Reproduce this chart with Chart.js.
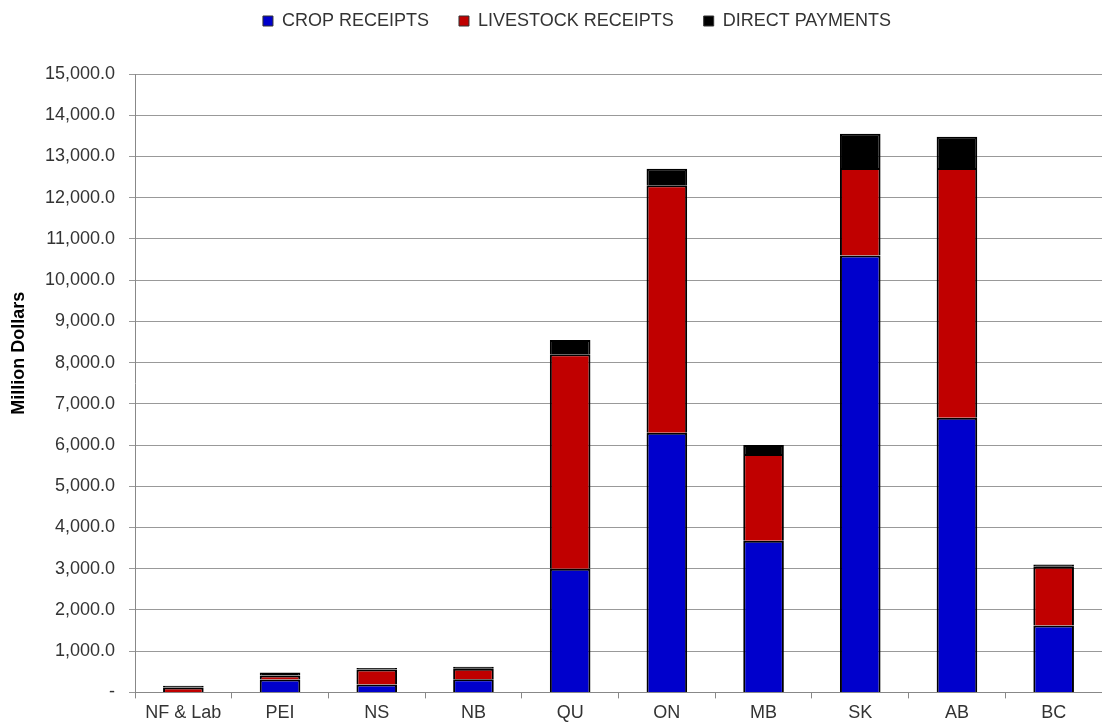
<!DOCTYPE html>
<html><head><meta charset="utf-8">
<script src="https://cdn.jsdelivr.net/npm/chart.js@4/dist/chart.umd.min.js"></script>
<style>html,body{margin:0;padding:0;background:#fff;}canvas{display:block;}</style>
</head><body>
<canvas id="c" width="1102" height="723"></canvas>
<script>
const categories = ["NF & Lab","PEI","NS","NB","QU","ON","MB","SK","AB","BC"];
const cropReceipts = [10, 310, 190, 320, 3000, 6300, 3680, 10600, 6660, 1620];
const livestockReceipts = [110, 100, 365, 255, 5200, 6000, 2100, 2120, 6060, 1430];
const directPayments = [40, 75, 35, 45, 350, 400, 220, 830, 760, 50];
const yTicks = [0,1000,2000,3000,4000,5000,6000,7000,8000,9000,10000,11000,12000,13000,14000,15000];

const FONT = "'Liberation Sans', Arial, sans-serif";
function ds(label, data, color){
  return {label, data, backgroundColor: color, borderColor: '#000', borderWidth: 2,
    barPercentage: 0.42, categoryPercentage: 1.0, borderSkipped: 'start'};
}
const layoutTweaks = {
  id: 'layoutTweaks',
  beforeInit(chart){
    const orig = chart.legend.fit;
    chart.legend.fit = function(){ orig.call(this); this.height = 92; };
  },
  afterLayout(chart){
    chart.legend.left += 25;
    chart.legend.right += 25;
    const y = chart.scales.y;
    if (!y._titleWrapped){
      const origDraw = y.drawTitle;
      y.drawTitle = function(){
        const b = this.bottom;
        this.bottom = b - 60;
        origDraw.call(this);
        this.bottom = b;
      };
      y._titleWrapped = true;
    }
  }
};
new Chart(document.getElementById('c'), {
  type: 'bar',
  data: {
    labels: categories,
    datasets: [
      ds('CROP RECEIPTS', cropReceipts, '#0000cc'),
      ds('LIVESTOCK RECEIPTS', livestockReceipts, '#c00000'),
      ds('DIRECT PAYMENTS', directPayments, '#000000')
    ]
  },
  plugins: [layoutTweaks],
  options: {
    responsive: false,
    animation: false,
    layout: {padding: {left: 2, right: 0, top: -18, bottom: -5}},
    plugins: {
      legend: {
        position: 'top',
        labels: {boxWidth: 10, boxHeight: 10, color: '#333', font: {family: FONT, size: 18}, padding: 30,
          generateLabels(chart){
            return chart.data.datasets.map((d,i)=>({text: d.label, fillStyle: d.backgroundColor, strokeStyle: '#333', lineWidth: 1, datasetIndex: i, hidden: false, fontColor: '#333'}));
          }}
      },
      tooltip: {enabled: false}
    },
    scales: {
      x: {
        stacked: true,
        grid: {display: true, drawOnChartArea: false, drawTicks: true, tickLength: 6, color: '#888', offset: true},
        border: {color: '#888', width: 1},
        ticks: {color: '#333', font: {family: FONT, size: 18}, padding: 4, maxRotation: 0}
      },
      y: {
        stacked: true,
        min: 0, max: 15000,
        afterBuildTicks(axis){ axis.ticks = yTicks.map(v=>({value: v})); },
        afterFit(axis){ axis.width = 133; },
        grid: {color: '#999', lineWidth: 1, tickLength: 6, drawTicks: true},
        border: {color: '#888', width: 1},
        ticks: {color: '#333', font: {family: FONT, size: 18}, padding: 14,
          callback: v => v === 0 ? '-' : v.toLocaleString('en-US', {minimumFractionDigits: 1, maximumFractionDigits: 1})},
        title: {display: true, text: 'Million Dollars', color: '#000', font: {family: FONT, size: 18, weight: 'bold'}, padding: {top: 6, bottom: 10}}
      }
    }
  }
});
</script>
</body></html>
